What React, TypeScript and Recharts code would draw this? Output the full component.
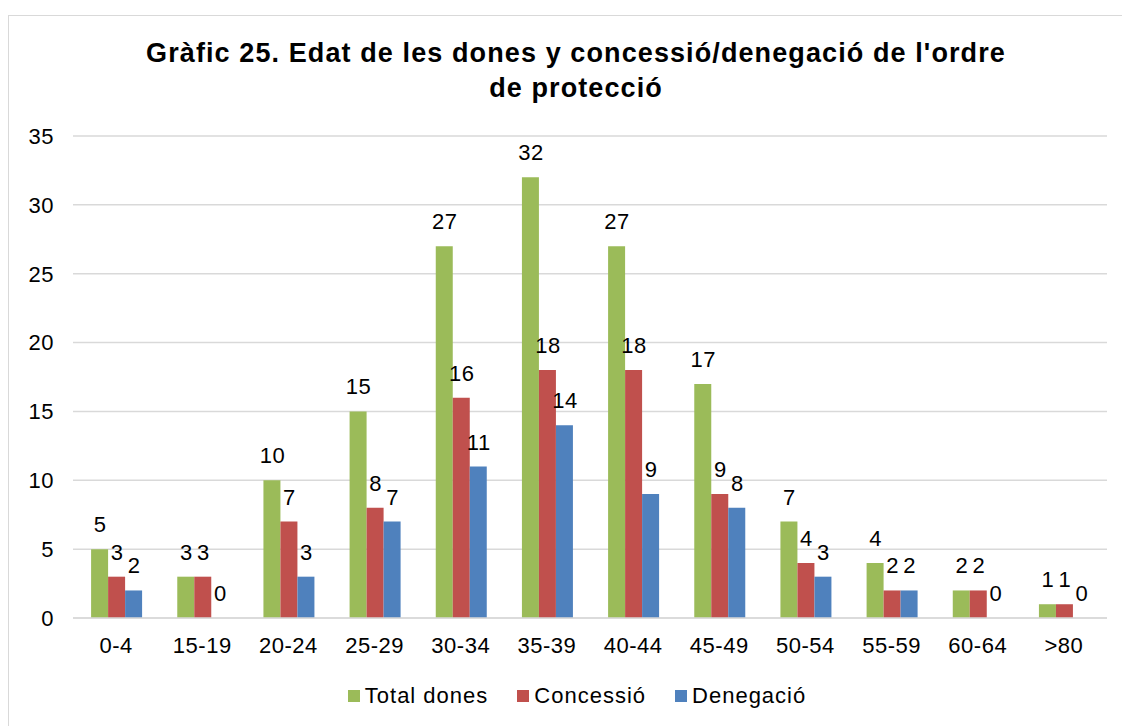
import { Bar, BarChart, CartesianGrid, Cell, LabelList, Legend, XAxis, YAxis } from "recharts";

const ageGroups = ["0-4", "15-19", "20-24", "25-29", "30-34", "35-39", "40-44", "45-49", "50-54", "55-59", "60-64", ">80"];
const totalDones = [5, 3, 10, 15, 27, 32, 27, 17, 7, 4, 2, 1];
const concessio = [3, 3, 7, 8, 16, 18, 18, 9, 4, 2, 2, 1];
const denegacio = [2, 0, 3, 7, 11, 14, 9, 8, 3, 2, 0, 0];
const yTicks = [0, 5, 10, 15, 20, 25, 30, 35];

const series = [
  { key: "total", name: "Total dones", color: "#9bbb59", values: totalDones },
  { key: "concessio", name: "Concessió", color: "#c0504d", values: concessio },
  { key: "denegacio", name: "Denegació", color: "#4f81bd", values: denegacio },
];

const rows = ageGroups.map((age, i) => ({
  age,
  total: totalDones[i],
  concessio: concessio[i],
  denegacio: denegacio[i],
}));

const font = "'Liberation Sans', Arial, sans-serif";
const tickStyle = { fontSize: 22, fill: "#000", fontFamily: font, letterSpacing: 0.5 };

// data label sitting above the bar, like Excel's "outside end"
function BarValue(props: any) {
  const { x, y, width, height, value } = props;
  if (value === undefined || value === null) return null;
  const top = value === 0 ? y + height : Math.min(y, y + height);
  return (
    <text x={x + width / 2 + 0.5} y={top - 17} textAnchor="middle" fontSize={22} fontFamily={font} letterSpacing={0.5} fill="#000">
      {value}
    </text>
  );
}

function LegendBox() {
  return (
    <div style={{ display: "flex", justifyContent: "center", gap: 29, fontFamily: font, fontSize: 22, letterSpacing: 1, color: "#000", lineHeight: "24px", paddingLeft: 28 }}>
      {series.map((s) => (
        <span key={s.key} style={{ display: "inline-flex", alignItems: "center", gap: 5 }}>
          <span style={{ width: 12, height: 12, background: s.color, display: "inline-block" }} />
          {s.name}
        </span>
      ))}
    </div>
  );
}

export default function App() {
  return (
    <div
      style={{
        position: "relative",
        marginTop: 7,
        width: 1114,
        height: 711,
        border: "1px solid #d9d9d9",
        background: "#fff",
        fontFamily: font,
      }}
    >
      <div
        style={{
          position: "absolute",
          left: 0,
          top: 20,
          width: 1134,
          textAlign: "center",
          fontSize: 27,
          fontWeight: "bold",
          letterSpacing: 1.1,
          lineHeight: "35px",
          color: "#000",
        }}
      >
        Gràfic 25. Edat de les dones y concessió/denegació de l'ordre
        <br />
        de protecció
      </div>
      <BarChart
        width={1114}
        height={711}
        data={rows}
        margin={{ top: 120, right: 16, left: 10, bottom: 19 }}
        barGap={0}
        barCategoryGap="21%"
      >
        <CartesianGrid vertical={false} stroke="#d9d9d9" strokeWidth={1.5} />
        <XAxis
          dataKey="age"
          height={66}
          tickLine={false}
          tickMargin={13}
          axisLine={{ stroke: "#d9d9d9", strokeWidth: 1.5 }}
          tick={tickStyle}
        />
        <YAxis
          width={54}
          domain={[0, 35]}
          ticks={yTicks}
          axisLine={false}
          tickLine={false}
          tickMargin={13}
          tick={tickStyle}
        />
        <Legend verticalAlign="bottom" content={<LegendBox />} />
        {series.map((s) => (
          <Bar key={s.key} dataKey={s.key} name={s.name} fill={s.color} minPointSize={1} isAnimationActive={false}>
            {s.values.map((v, i) => (
              <Cell key={i} fill={v === 0 ? "transparent" : s.color} />
            ))}
            <LabelList dataKey={s.key} content={<BarValue />} />
          </Bar>
        ))}
      </BarChart>
    </div>
  );
}
